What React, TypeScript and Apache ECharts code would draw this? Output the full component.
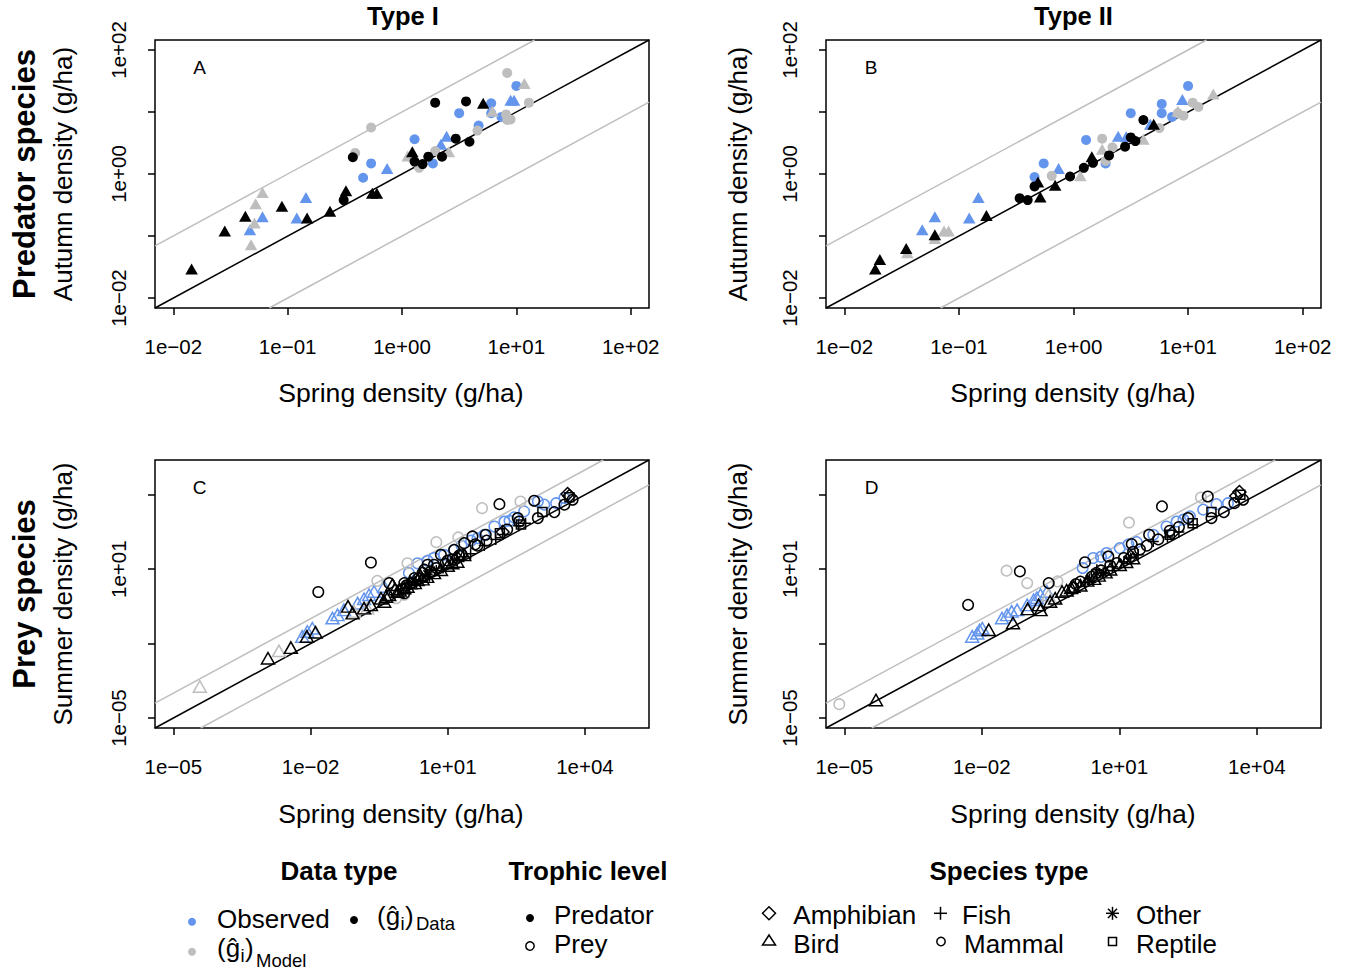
import React, { useEffect, useRef } from "react";
import * as echarts from "echarts";

// ---------------- data: [log10 spring density, log10 autumn/summer density] (g/ha) ----------------
// Panel A – predator species, Type I
const aObsMammal = [[-0.34,-0.06],[-0.27,0.17],[0.11,0.56],[0.27,0.17],[0.50,0.98],[0.67,0.78],[0.78,1.14],[0.78,0.98],[0.87,0.92],[1.00,1.42]];
const aObsBird = [[-1.33,-0.90],[-1.22,-0.69],[-0.92,-0.71],[-0.84,-0.38],[-0.13,0.09],[0.34,0.48],[0.39,0.61],[0.95,1.19],[0.98,1.19]];
const aModelMammal = [[-0.27,0.75],[-0.41,0.34],[0.92,1.63],[1.11,1.15],[0.91,0.96],[0.95,0.88],[0.92,0.87],[0.29,0.37],[0.15,0.10],[0.66,0.70]];
const aModelBird = [[-1.22,-0.30],[-1.28,-0.48],[-1.29,-0.79],[-1.32,-1.14],[1.07,1.46],[0.79,1.01],[0.41,0.36],[0.05,0.29]];
const aDataMammal = [[-0.43,0.27],[-0.51,-0.42],[0.29,1.15],[0.56,1.17],[0.11,0.20],[0.18,0.16],[0.23,0.28],[0.35,0.28],[0.47,0.57],[0.59,0.52]];
const aDataBird = [[-1.84,-1.53],[-1.55,-0.92],[-1.37,-0.68],[-1.05,-0.52],[-0.83,-0.71],[-0.63,-0.60],[-0.49,-0.27],[-0.26,-0.31],[-0.22,-0.31],[0.09,0.36],[0.71,1.14]];

// Panel B – predator species, Type II
const bObsMammal = [[-0.34,-0.05],[-0.26,0.17],[0.11,0.55],[0.28,0.17],[0.50,0.98],[0.77,1.13],[0.77,0.98],[0.86,0.92],[1.00,1.42]];
const bObsBird = [[-1.32,-0.90],[-1.21,-0.69],[-0.91,-0.71],[-0.83,-0.38],[-0.13,0.09],[0.39,0.61],[0.95,1.20],[0.67,0.80],[0.46,0.60]];
const bModelMammal = [[-0.19,-0.03],[0.25,0.57],[1.04,1.15],[1.09,1.08],[0.96,0.94],[0.91,0.98],[0.28,0.21],[0.34,0.43],[0.75,0.74]];
const bModelBird = [[-1.45,-1.27],[-1.21,-1.04],[-1.13,-0.92],[-1.09,-0.92],[0.06,-0.03],[0.25,0.40],[0.61,0.56],[0.91,1.01],[1.22,1.29]];
const bDataMammal = [[-0.47,-0.39],[-0.40,-0.42],[-0.34,-0.20],[-0.03,-0.04],[0.09,0.10],[0.17,0.18],[0.31,0.30],[0.45,0.44],[0.50,0.59],[0.54,0.53],[0.61,0.87]];
const bDataBird = [[-1.73,-1.53],[-1.69,-1.38],[-1.46,-1.20],[-1.21,-0.98],[-0.76,-0.67],[-0.31,-0.13],[-0.29,-0.37],[-0.16,-0.18],[0.16,0.28],[0.70,0.80]];

// Panel C – prey species, Type I
const cObsBird = [[-2.18,-1.71],[-2.07,-1.51],[-1.96,-1.38],[-1.52,-0.97],[-1.41,-0.84],[-1.27,-0.64],[-0.97,-0.37],[-0.83,-0.19],[-0.72,-0.03],[-0.61,0.10],[-0.39,0.30]];
const cObsMammal = [[0.34,1.24],[0.56,1.34],[0.92,1.58],[1.14,1.78],[1.51,2.15],[1.80,2.39],[2.02,2.72],[2.24,2.92],[2.45,3.09],[2.67,3.33],[2.97,3.73],[3.11,3.60],[3.37,3.66],[3.55,3.87],[0.15,0.85],[0.70,1.45],[1.30,1.95],[2.35,2.95],[1.65,2.25]];
const cModelMammal = [[1.75,3.46],[2.59,3.73],[0.75,2.09],[1.23,2.28],[0.12,1.24],[-0.54,0.53],[0.05,-0.03],[-0.13,-0.17]];
const cModelBird = [[-4.42,-3.73],[-2.69,-2.29],[-1.05,-0.70],[-0.76,-0.57]];
const cDataBird = [[-2.93,-2.59],[-2.43,-2.16],[-2.08,-1.71],[-1.89,-1.54],[-1.18,-0.50],[-1.08,-0.77],[-0.83,-0.57],[-0.68,-0.44],[-0.46,-0.17],[-0.39,-0.30],[-0.28,-0.03],[-0.21,0.37],[-0.10,0.10],[0.05,0.24],[0.19,0.44],[0.34,0.57],[1.21,1.31],[1.36,1.58],[-0.35,-0.10],[-0.05,0.15],[0.12,0.30],[0.28,0.45],[0.45,0.60],[0.70,0.85],[1.00,1.15],[0.55,0.70],[0.85,0.98],[1.10,1.25],[-0.15,0.20],[0.40,0.75]];
const cDataMammal = [[-1.83,0.08],[-0.68,1.27],[2.13,3.62],[2.89,3.76],[-0.28,0.44],[0.05,0.44],[0.27,0.64],[0.49,0.98],[0.70,1.18],[0.85,1.58],[1.14,1.78],[1.36,2.05],[1.54,2.32],[1.83,2.39],[2.53,3.06],[2.56,2.92],[2.97,3.06],[3.33,3.30],[3.55,3.60],[3.73,3.80],[0.05,0.03],[0.56,1.18],[0.20,0.45],[0.35,0.62],[0.62,0.90],[0.95,1.22],[1.10,1.40],[1.30,1.60],[1.65,1.95],[1.85,2.15],[0.10,0.35],[0.45,0.85],[0.75,1.05],[1.00,1.35],[1.25,1.55],[1.60,2.00],[2.30,2.60],[0.00,0.20]];
const cDataAmphibian = [[3.62,4.03],[3.66,3.95],[2.20,2.50],[1.20,1.45]];
const cDataReptile = [[2.14,2.45],[3.07,3.30],[3.66,3.90],[2.60,2.80]];
const cDataFish = [[0.40,0.55],[0.60,0.72],[0.90,1.05],[1.20,1.35],[1.50,1.62],[1.80,1.95],[2.20,2.40],[2.55,2.75],[2.70,2.85],[2.05,2.20],[0.15,0.38],[0.75,0.95],[1.35,1.50]];
const cDataOther = [[0.30,0.50],[0.55,0.80]];

// Panel D – prey species, Type II
const dObsBird = [[-2.21,-1.71],[-2.10,-1.58],[-1.99,-1.38],[-1.56,-0.97],[-1.45,-0.84],[-1.23,-0.64],[-1.01,-0.44],[-0.87,-0.23],[-0.72,-0.03],[-0.58,0.10],[-2.05,-1.45],[-1.35,-0.70],[-0.80,-0.15]];
const dObsMammal = [[0.43,1.45],[0.72,1.65],[1.01,1.85],[1.38,2.09],[1.74,2.39],[2.03,2.72],[2.25,2.92],[2.54,3.13],[2.83,3.40],[3.12,3.62],[3.37,3.66],[0.20,1.05],[0.60,1.50],[1.20,2.00],[2.40,3.00]];
const dModelMammal = [[-5.11,-4.44],[-1.46,0.94],[-1.01,0.44],[1.21,2.88],[2.78,3.89],[-0.35,0.51]];
const dModelBird = [[-0.55,-0.05],[0.40,0.75]];
const dDataBird = [[-4.31,-4.27],[-1.85,-1.44],[-1.32,-1.17],[-1.00,-0.60],[-0.76,-0.44],[-0.72,-0.64],[-0.51,-0.30],[-0.40,-0.17],[-0.25,0.10],[0.00,0.30],[1.01,1.18],[1.30,1.45],[-0.15,0.15],[0.15,0.35],[0.30,0.55],[0.55,0.75],[0.80,1.00],[0.45,0.62],[0.70,0.88],[1.15,1.30],[-0.05,0.25]];
const dDataMammal = [[-2.30,-0.44],[-1.17,0.91],[1.93,3.53],[2.93,3.93],[-0.54,0.44],[0.25,1.28],[0.76,1.51],[1.27,2.01],[1.65,2.39],[2.50,3.06],[3.01,3.06],[3.28,3.30],[3.51,3.66],[3.70,3.80],[0.05,0.40],[0.40,0.70],[0.60,0.95],[0.95,1.25],[1.10,1.45],[1.45,1.80],[1.85,2.20],[2.10,2.55],[0.15,0.50],[0.50,0.85],[0.80,1.15],[1.30,1.70],[1.60,1.95],[2.30,2.70],[0.00,0.25]];
const dDataAmphibian = [[3.62,4.11],[3.55,3.95],[2.15,2.45],[1.25,1.50]];
const dDataReptile = [[2.10,2.39],[3.01,3.30],[3.64,4.00],[2.60,2.85]];
const dDataFish = [[2.61,2.79],[1.74,2.12],[1.41,1.58],[0.51,0.98],[0.85,1.10],[1.10,1.30],[2.05,2.30],[2.30,2.50],[0.25,0.45],[0.65,0.85],[1.25,1.45]];
const dDataOther = [[0.35,0.60],[0.65,0.85]];

// ---------------- axes (log10 units) ----------------
const predatorRange = [-2.16, 2.16];
const predatorTicks = [-2, -1, 0, 1, 2];
const predatorXLabels = [-2, -1, 0, 1, 2];
const predatorYLabels = [-2, 0, 2];
const preyRange = [-5.4, 5.4];
const preyTicks = [-5, -2, 1, 4];
const preyXLabels = [-5, -2, 1, 4];
const preyYLabels = [-5, 1];

const columnTitles = ["Type I", "Type II"];
const rowTitles = ["Predator species", "Prey species"];
const yTitles = ["Autumn density (g/ha)", "Summer density (g/ha)"];
const xTitle = "Spring density (g/ha)";
const panelLetters = ["A", "B", "C", "D"];

// ---------------- styling ----------------
const FONT = '"Liberation Sans", Arial, Helvetica, sans-serif';
const BLUE = "#6495ED";
const GRAY = "#BEBEBE";
const BLACK = "#000000";
const PLUS = "path://M0,5L10,5M5,0L5,10";
const STAR = "path://M0,5L10,5M5,0L5,10M1.5,1.5L8.5,8.5M1.5,8.5L8.5,1.5";

const GRIDS = [
  { left: 155, top: 40, width: 494, height: 268 },
  { left: 826, top: 40, width: 495, height: 268 },
  { left: 155, top: 460, width: 494, height: 268 },
  { left: 826, top: 460, width: 495, height: 268 },
];

function fmt(v: number) {
  const e = Math.round(v);
  return "1e" + (e < 0 ? "\u2212" : "+") + String(Math.abs(e)).padStart(2, "0");
}

function scatter(idx: number, data: number[][], symbol: string, size: any, color: string, filled: boolean, z: number) {
  return {
    type: "scatter",
    xAxisIndex: idx,
    yAxisIndex: idx,
    data,
    symbol,
    symbolSize: size,
    z,
    silent: true,
    itemStyle: filled
      ? { color, opacity: 1 }
      : { color: "rgba(0,0,0,0)", borderColor: color, borderWidth: 1.5, opacity: 1 },
  };
}

function refLines(idx: number, range: number[]) {
  const lo = range[0];
  const hi = range[1];
  const mk = (data: number[][], color: string) => ({
    type: "line",
    xAxisIndex: idx,
    yAxisIndex: idx,
    data,
    symbol: "none",
    showSymbol: false,
    silent: true,
    z: 1,
    clip: true,
    lineStyle: { color, width: 1.5 },
  });
  return [
    mk([[lo, lo + 1], [hi - 1, hi]], GRAY),
    mk([[lo + 1, lo], [hi, hi - 1]], GRAY),
    mk([[lo, lo], [hi, hi]], BLACK),
  ];
}

function xAxis(idx: number, range: number[], ticks: number[], labels: number[]) {
  return {
    type: "value",
    gridIndex: idx,
    min: range[0],
    max: range[1],
    axisLine: { show: false, onZero: false },
    axisTick: { show: true, length: 7, customValues: ticks, lineStyle: { color: BLACK, width: 1.5 } },
    axisLabel: { show: true, customValues: labels, formatter: fmt, color: BLACK, fontSize: 20.5, fontFamily: FONT, margin: 28 },
    splitLine: { show: false },
  };
}

function yAxis(idx: number, range: number[], ticks: number[], labels: number[]) {
  return {
    type: "value",
    gridIndex: idx,
    min: range[0],
    max: range[1],
    axisLine: { show: false, onZero: false },
    axisTick: { show: true, length: 7, customValues: ticks, lineStyle: { color: BLACK, width: 1.5 } },
    axisLabel: { show: true, customValues: labels, formatter: fmt, color: BLACK, fontSize: 20.5, fontFamily: FONT, margin: 26, rotate: 90 },
    splitLine: { show: false },
  };
}

function txt(text: string, x: number, y: number, size: number, o: any = {}) {
  return {
    type: "text",
    x,
    y,
    rotation: o.rot || 0,
    silent: true,
    style: {
      text,
      fill: BLACK,
      fontSize: size,
      fontFamily: FONT,
      fontWeight: o.bold ? "bold" : "normal",
      textAlign: o.align || "center",
      textVerticalAlign: "middle",
    },
  };
}

function dot(cx: number, cy: number, r: number, fill: string, stroke?: string) {
  return {
    type: "circle",
    silent: true,
    shape: { cx, cy, r },
    style: stroke ? { fill: "none", stroke, lineWidth: 1.5 } : { fill },
  };
}

function seg(x1: number, y1: number, x2: number, y2: number) {
  return { type: "line", silent: true, shape: { x1, y1, x2, y2 }, style: { stroke: BLACK, lineWidth: 1.5 } };
}

function poly(points: number[][]) {
  return { type: "polygon", silent: true, shape: { points }, style: { fill: "none", stroke: BLACK, lineWidth: 1.5 } };
}

function buildOption() {
  const FS = 10;
  const FT = [12.5, 11];
  const OC = 10.5;
  const OT = [13, 11.5];
  const series: any[] = [];
  // predator panels (filled symbols)
  const pred = [
    [aObsMammal, aObsBird, aModelMammal, aModelBird, aDataMammal, aDataBird],
    [bObsMammal, bObsBird, bModelMammal, bModelBird, bDataMammal, bDataBird],
  ];
  pred.forEach((p, i) => {
    series.push(...refLines(i, predatorRange));
    series.push(scatter(i, p[0], "circle", FS, BLUE, true, 2));
    series.push(scatter(i, p[1], "triangle", FT, BLUE, true, 2));
    series.push(scatter(i, p[2], "circle", FS, GRAY, true, 3));
    series.push(scatter(i, p[3], "triangle", FT, GRAY, true, 3));
    series.push(scatter(i, p[4], "circle", FS, BLACK, true, 4));
    series.push(scatter(i, p[5], "triangle", FT, BLACK, true, 4));
  });
  // prey panels (open symbols)
  const prey = [
    [cObsBird, cObsMammal, cModelMammal, cModelBird, cDataBird, cDataMammal, cDataAmphibian, cDataReptile, cDataFish, cDataOther],
    [dObsBird, dObsMammal, dModelMammal, dModelBird, dDataBird, dDataMammal, dDataAmphibian, dDataReptile, dDataFish, dDataOther],
  ];
  prey.forEach((p, k) => {
    const i = k + 2;
    series.push(...refLines(i, preyRange));
    series.push(scatter(i, p[0], "triangle", OT, BLUE, false, 2));
    series.push(scatter(i, p[1], "circle", OC, BLUE, false, 2));
    series.push(scatter(i, p[2], "circle", OC, GRAY, false, 3));
    series.push(scatter(i, p[3], "triangle", OT, GRAY, false, 3));
    series.push(scatter(i, p[4], "triangle", OT, BLACK, false, 4));
    series.push(scatter(i, p[5], "circle", OC, BLACK, false, 4));
    series.push(scatter(i, p[6], "diamond", [13, 13], BLACK, false, 4));
    series.push(scatter(i, p[7], "rect", 9, BLACK, false, 4));
    series.push(scatter(i, p[8], PLUS, 11, BLACK, false, 4));
    series.push(scatter(i, p[9], STAR, 11, BLACK, false, 4));
  });

  const graphic: any[] = [];
  // column titles
  graphic.push(txt(columnTitles[0], 403, 16, 25.5, { bold: true }));
  graphic.push(txt(columnTitles[1], 1073.5, 16, 25.5, { bold: true }));
  // row titles
  graphic.push(txt(rowTitles[0], 24.6, 174, 31, { bold: true, rot: Math.PI / 2 }));
  graphic.push(txt(rowTitles[1], 24.6, 594, 31, { bold: true, rot: Math.PI / 2 }));
  // axis titles
  graphic.push(txt(yTitles[0], 63, 174, 26, { rot: Math.PI / 2 }));
  graphic.push(txt(yTitles[0], 738, 174, 26, { rot: Math.PI / 2 }));
  graphic.push(txt(yTitles[1], 63, 594, 26, { rot: Math.PI / 2 }));
  graphic.push(txt(yTitles[1], 738, 594, 26, { rot: Math.PI / 2 }));
  graphic.push(txt(xTitle, 401, 393, 26.6));
  graphic.push(txt(xTitle, 1073, 393, 26.6));
  graphic.push(txt(xTitle, 401, 814, 26.6));
  graphic.push(txt(xTitle, 1073, 814, 26.6));
  // panel letters
  graphic.push(txt(panelLetters[0], 199.5, 67.4, 19));
  graphic.push(txt(panelLetters[1], 871, 67.4, 19));
  graphic.push(txt(panelLetters[2], 199.7, 487.4, 19));
  graphic.push(txt(panelLetters[3], 871.7, 487.4, 19));

  // legend: Data type
  graphic.push(txt("Data type", 339, 871, 26, { bold: true }));
  graphic.push(dot(192, 921.7, 4, BLUE));
  graphic.push(txt("Observed", 217, 919, 26, { align: "left" }));
  graphic.push(dot(354, 920, 4, BLACK));
  graphic.push(txt("(\u011D", 377, 916, 26, { align: "left" }));
  graphic.push(txt("i", 400.5, 923.6, 18.5, { align: "left" }));
  graphic.push(txt(")", 405, 916, 26, { align: "left" }));
  graphic.push(txt("Data", 416, 923.6, 18.5, { align: "left" }));
  graphic.push(dot(192, 951.7, 4, GRAY));
  graphic.push(txt("(\u011D", 217, 948, 26, { align: "left" }));
  graphic.push(txt("i", 240.5, 955.6, 18.5, { align: "left" }));
  graphic.push(txt(")", 245, 948, 26, { align: "left" }));
  graphic.push(txt("Model", 256, 960, 18.5, { align: "left" }));

  // legend: Trophic level
  graphic.push(txt("Trophic level", 588, 871, 26, { bold: true }));
  graphic.push(dot(530, 918, 4, BLACK));
  graphic.push(txt("Predator", 554, 915, 26, { align: "left" }));
  graphic.push(dot(530, 946, 4.2, "none", BLACK));
  graphic.push(txt("Prey", 554, 943.7, 26, { align: "left" }));

  // legend: Species type
  graphic.push(txt("Species type", 1009, 871, 26, { bold: true }));
  const r1 = 913.3;
  const r2 = 940.5;
  graphic.push(poly([[769, r1 - 6.5], [775.5, r1], [769, r1 + 6.5], [762.5, r1]]));
  graphic.push(txt("Amphibian", 793.3, 915, 26, { align: "left" }));
  graphic.push(poly([[769, r2 - 5.5], [775.5, r2 + 4.5], [762.5, r2 + 4.5]]));
  graphic.push(txt("Bird", 793.3, 943.7, 26, { align: "left" }));
  graphic.push(seg(934, r1, 947, r1));
  graphic.push(seg(940.5, r1 - 6.5, 940.5, r1 + 6.5));
  graphic.push(txt("Fish", 962, 915, 26, { align: "left" }));
  graphic.push(dot(941, r2 + 1, 4.2, "none", BLACK));
  graphic.push(txt("Mammal", 964, 943.7, 26, { align: "left" }));
  graphic.push(seg(1106, r1, 1119, r1));
  graphic.push(seg(1112.5, r1 - 6.5, 1112.5, r1 + 6.5));
  graphic.push(seg(1108, r1 - 4.6, 1117, r1 + 4.6));
  graphic.push(seg(1108, r1 + 4.6, 1117, r1 - 4.6));
  graphic.push(txt("Other", 1136, 915, 26, { align: "left" }));
  graphic.push({ type: "rect", silent: true, shape: { x: 1108.5, y: r2 - 3, width: 8, height: 8 }, style: { fill: "none", stroke: BLACK, lineWidth: 1.5 } });
  graphic.push(txt("Reptile", 1136, 943.7, 26, { align: "left" }));

  return {
    animation: false,
    backgroundColor: "#ffffff",
    grid: GRIDS.map((g) => ({
      ...g,
      show: true,
      borderColor: BLACK,
      borderWidth: 1.5,
      backgroundColor: "transparent",
      containLabel: false,
      outerBoundsMode: "none",
    })),
    xAxis: [
      xAxis(0, predatorRange, predatorTicks, predatorXLabels),
      xAxis(1, predatorRange, predatorTicks, predatorXLabels),
      xAxis(2, preyRange, preyTicks, preyXLabels),
      xAxis(3, preyRange, preyTicks, preyXLabels),
    ],
    yAxis: [
      yAxis(0, predatorRange, predatorTicks, predatorYLabels),
      yAxis(1, predatorRange, predatorTicks, predatorYLabels),
      yAxis(2, preyRange, preyTicks, preyYLabels),
      yAxis(3, preyRange, preyTicks, preyYLabels),
    ],
    series,
    graphic,
  };
}

export default function App() {
  const ref = useRef<HTMLDivElement>(null);
  useEffect(() => {
    if (!ref.current) return;
    const chart = echarts.init(ref.current, null, { renderer: "svg", width: 1349, height: 972 });
    chart.setOption(buildOption() as any);
    return () => chart.dispose();
  }, []);
  return (
    <div
      ref={ref}
      style={{ position: "absolute", left: 0, top: 0, width: 1349, height: 972, background: "#ffffff" }}
    />
  );
}
